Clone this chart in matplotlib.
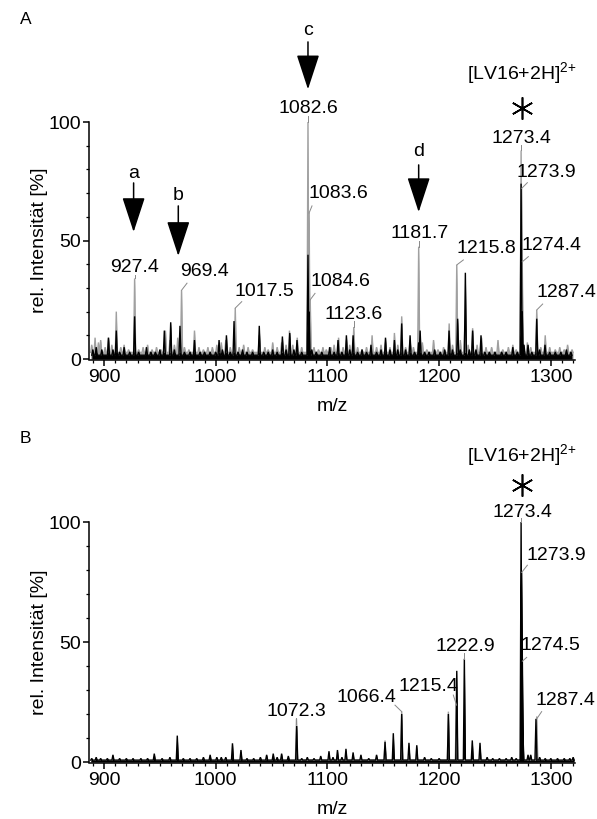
import matplotlib.pyplot as plt
from matplotlib.ticker import MultipleLocator, FixedLocator

plt.rcParams['font.family'] = ['Liberation Sans', 'DejaVu Sans']
plt.rcParams['font.size'] = 14
plt.rcParams['mathtext.fontset'] = 'custom'
plt.rcParams['mathtext.rm'] = 'Liberation Sans'
plt.rcParams['mathtext.it'] = 'Liberation Sans:italic'

FS = 14

# ---- panel A: two overlaid spectra (grey + black), m/z and rel. intensity [%]
a_grey_mz = [889, 892, 895, 897, 901, 904, 907, 911, 915, 918, 922, 927.4, 931, 935, 939, 943,
             947, 951, 955, 959, 963, 966, 969.4, 972, 976, 981, 985, 989, 993, 997, 1001, 1005,
             1009, 1013, 1017.5, 1021, 1025, 1029, 1033, 1039, 1044, 1047, 1051, 1055, 1059, 1063,
             1066, 1069, 1073, 1077, 1082.6, 1083.6, 1084.6, 1088, 1092, 1096, 1099, 1103, 1106,
             1110, 1114, 1117, 1120, 1123.6, 1127, 1131, 1135, 1140, 1144, 1148, 1152, 1156, 1160,
             1163, 1166.5, 1170, 1174, 1177, 1181.7, 1185, 1189, 1195, 1199, 1204, 1209, 1212,
             1215.8, 1219, 1223, 1226, 1230, 1234, 1238, 1242, 1247, 1252.7, 1257, 1262, 1266,
             1269, 1273.4, 1273.9, 1274.4, 1275, 1279, 1282, 1287.4, 1291, 1295, 1299, 1304, 1308,
             1312, 1315, 1319]
a_grey_int = [6, 9, 7, 8, 5, 9, 6, 20, 5, 6, 4, 34, 4, 5, 6, 4,
              5, 4, 12, 8, 6, 9, 29, 5, 4, 12, 5, 4, 5, 5, 6, 7,
              8, 5, 21.5, 5, 6, 5, 4, 10, 5, 4, 7, 5, 7, 6,
              12, 6, 9, 5, 100, 61.6, 25, 5, 4, 5, 4, 5, 6,
              9, 5, 8, 6, 13.5, 5, 4, 5, 10, 5, 6, 7, 5, 11,
              6, 18, 5, 8, 5, 47.4, 7, 4, 8, 4, 5, 15, 6,
              39.7, 8, 13, 6, 13, 6, 9, 5, 5, 8, 4, 5, 6,
              4, 88, 72, 41, 10, 7, 5, 20.7, 5, 10, 5, 4, 5,
              4, 6, 4]
a_black_mz = [890, 893, 898, 904, 908, 911, 914, 918, 923, 927.4, 931, 938, 942, 946, 950, 954,
              959.7, 963, 968, 972, 977, 981, 986, 990, 995, 1000, 1003, 1006, 1009.6, 1013,
              1016.4, 1020, 1024, 1028, 1033, 1039, 1043, 1047, 1051, 1055, 1059.7, 1063, 1066.3,
              1070, 1072.8, 1077, 1082.6, 1083.6, 1086, 1090, 1095, 1102, 1106, 1109.5, 1113, 1117,
              1120, 1123, 1127, 1131, 1135, 1139, 1144, 1148, 1152, 1156, 1160, 1163, 1166.5, 1170,
              1174, 1178, 1181.7, 1183, 1187, 1191, 1196, 1201, 1205, 1208.9, 1212, 1216.6, 1219,
              1223.5, 1227, 1230, 1233, 1237.5, 1241, 1245, 1250, 1256, 1260, 1266, 1270, 1273.4,
              1274.4, 1276, 1279.6, 1283, 1287.4, 1290, 1294.8, 1299, 1304, 1309, 1314, 1318]
a_black_int = [4, 5, 4, 9, 4, 12, 3, 5, 3, 18, 3, 5, 3, 3, 4, 12,
               15.5, 4, 14, 3, 3, 8, 3, 3, 3, 3, 8, 4, 10, 3,
               16, 3, 4, 3, 3, 14, 3, 3, 4, 3, 9.5, 4, 11,
               4, 8, 3, 44, 20, 4, 3, 3, 5, 3, 8, 3, 10,
               4, 10, 3, 4, 3, 6, 3, 4, 9, 4, 8, 4, 15, 4,
               10, 3, 7, 12, 3, 3, 4, 3, 4, 12, 4, 17, 4,
               36.4, 4, 12, 4, 10, 3, 3, 3, 3, 3, 5, 3, 74,
               20, 6, 6, 3, 17, 4, 6, 3, 3, 3, 4, 3]

# ---- panel B
b_black_mz = [889, 893, 897, 903, 908, 914, 920, 926, 933, 939, 945, 952, 959, 965.6, 971, 977,
              983, 989, 995, 1001, 1005, 1009, 1015, 1022.6, 1028, 1034, 1040, 1045.6, 1051.5,
              1055, 1059, 1065, 1072.5, 1077, 1082, 1088, 1094, 1101.4, 1105, 1109, 1113, 1116.6,
              1123, 1130, 1137, 1144, 1151.6, 1159, 1166.5, 1173, 1180, 1187, 1193, 1200, 1208.3,
              1215.8, 1222.6, 1229.7, 1236.6, 1243, 1248, 1254, 1260, 1265, 1269, 1273.4, 1273.9,
              1274.5, 1275, 1279.6, 1282, 1286.7, 1290, 1295, 1300, 1306, 1312, 1317, 1320]
b_black_int = [1.5, 2, 1.5, 1.5, 3, 1.5, 1.5, 1.5, 1.5, 1.5, 3.5, 1.5, 2, 11, 1.5, 1.5,
               1.5, 2, 3, 2, 2, 2, 7.8, 5, 1.5, 1.5, 2, 3, 3.5,
               2, 3.5, 2.5, 15, 1.5, 2, 1.5, 2.5, 4.5, 2, 5, 2, 5.5,
               4, 3, 1.5, 3, 8.4, 12, 20, 8, 7, 2, 1.5, 1.5, 20,
               38, 43, 9, 8, 2, 1.5, 1.5, 1.5, 2, 1.5, 100, 79,
               44, 12, 3, 3, 18, 2, 1.5, 1.5, 1.5, 1.5, 1.5, 2]
b_grey_mz = [1072.3, 1151.6, 1166.5, 1208.3, 1215.4, 1287.4]
b_grey_int = [18, 9, 21, 21, 24, 19]

base_level = {'a_grey': 2.8, 'a_black': 1.6, 'b_black': 0.8, 'b_grey': 0.8}

# peak labels: text, text position, leader start, leader end (peak top)
a_labels = [
    ('927.4', 927.5, 38.8, (927.4, 35.5), (927.4, 34)),
    ('969.4', 990.2, 36.8, (974.3, 32), (969.4, 29)),
    ('1017.5', 1044, 28.4, (1023.3, 24.2), (1017.5, 21.5)),
    ('1082.6', 1082.9, 105.9, (1082.6, 102.5), (1082.6, 100)),
    ('1083.6', 1109.8, 69.9, (1086.2, 64.6), (1083.6, 61.6)),
    ('1084.6', 1111.3, 32.6, (1088.9, 27.7), (1084.6, 25)),
    ('1123.6', 1123.2, 18.6, (1123.6, 16), (1123.6, 13.5)),
    ('1181.7', 1182.3, 53, (1181.7, 50), (1181.7, 47.4)),
    ('1215.8', 1242.6, 46.7, (1221.7, 41.8), (1215.8, 39.7)),
    ('1273.4', 1273.9, 93.1, (1273.4, 90.5), (1273.4, 88)),
    ('1273.9', 1296.3, 78.6, (1279, 74.4), (1273.9, 72)),
    ('1274.4', 1300.8, 47.7, (1279.9, 43.2), (1274.4, 41)),
    ('1287.4', 1313.6, 28, (1292.7, 23.2), (1287.4, 20.7)),
]
b_labels = [
    ('1072.3', 1072.5, 21, (1072.3, 18.5), (1072.3, 16)),
    ('1066.4', 1135.2, 26.9, (1160.5, 23.7), (1166.5, 21)),
    ('1215.4', 1190.4, 31.4, (1212.7, 27.9), (1215.6, 23.7)),
    ('1222.9', 1223.2, 48, (1222.7, 45.5), (1222.7, 43)),
    ('1273.4', 1275, 104, (1273.4, 101.5), (1273.4, 100)),
    ('1273.9', 1304.6, 86, (1279, 82), (1273.9, 79)),
    ('1274.5', 1299.3, 48.7, (1278.4, 43.6), (1274.5, 42)),
    ('1287.4', 1312.7, 25.8, (1291.8, 21), (1287.4, 18)),
]
# cleavage arrows: letter, m/z, letter y, arrow tail y, arrow tip y
a_arrows = [
    ('a', 926.5, 78.4, 74.3, 53.6),
    ('b', 966.5, 68.8, 64.6, 43.5),
    ('c', 1082.6, 138.8, 133.8, 113.8),
    ('d', 1181.7, 87.5, 81.9, 62),
]
ion_label = '[LV16+2H]$^{2{+}}$'


def draw_trace(ax, mz, inten, base, color, lw):
    hw = 0.9
    xs, ys = [], []
    for m, h in sorted(zip(mz, inten)):
        xs += [m - hw, m, m + hw]
        ys += [base, h, base]
    ax.fill_between(xs, 0, ys, color=color, lw=0)
    ax.plot(xs, ys, color=color, lw=lw, solid_joinstyle='miter')


def style_axis(ax, ytop):
    ax.set_xlim(887, 1322)
    ax.set_ylim(-0.5, ytop)
    for s in ['top', 'right']:
        ax.spines[s].set_visible(False)
    ax.spines['left'].set_bounds(0, 100)
    ax.spines['left'].set_linewidth(1.1)
    ax.spines['bottom'].set_linewidth(1.1)
    ax.set_yticks([0, 50, 100])
    ax.yaxis.set_minor_locator(FixedLocator(range(0, 101, 10)))
    ax.xaxis.set_major_locator(MultipleLocator(100))
    ax.xaxis.set_minor_locator(MultipleLocator(10))
    ax.tick_params(which='major', length=4, width=1.1, labelsize=FS, pad=2)
    ax.tick_params(which='minor', length=2.5, width=0.9)
    ax.set_xlabel('m/z', fontsize=FS, labelpad=9)
    ax.set_ylabel('rel. Intensität [%]', fontsize=FS)


def draw_labels(ax, labels):
    for txt, tx, ty, p0, p1 in labels:
        ax.text(tx, ty, txt, ha='center', va='center', fontsize=FS)
        ax.plot([p0[0], p1[0]], [p0[1], p1[1]], color='#888888', lw=0.7)


fig = plt.figure(figsize=(5.97, 8.19), dpi=100)
axA = fig.add_axes([0.1499, 0.5602, 0.8139, 0.4355])
axB = fig.add_axes([0.1499, 0.0681, 0.8139, 0.3971])

# panel A
draw_trace(axA, a_grey_mz, a_grey_int, base_level['a_grey'], '#a0a0a0', 1.0)
draw_trace(axA, a_black_mz, a_black_int, base_level['a_black'], 'black', 1.0)
style_axis(axA, 150)
axA.yaxis.set_label_coords(-0.085, 50.5 / 150.5)
draw_labels(axA, a_labels)
for letter, x, ly, y0, y1 in a_arrows:
    axA.text(x, ly, letter, ha='center', va='center', fontsize=FS)
    axA.annotate('', xy=(x, y1), xytext=(x, y0),
                 arrowprops=dict(arrowstyle='-|>,head_length=22,head_width=7.2',
                                 mutation_scale=1, color='black', lw=1.1,
                                 shrinkA=0, shrinkB=0))
axA.plot([1273.9], [106], marker=(6, 2, 0), ms=16, mew=1.2, color='black')
axA.text(1273.9, 120.5, ion_label, ha='center', va='center', fontsize=FS)

# panel B
draw_trace(axB, b_grey_mz, b_grey_int, base_level['b_grey'], '#a0a0a0', 1.0)
draw_trace(axB, b_black_mz, b_black_int, base_level['b_black'], 'black', 1.0)
style_axis(axB, 135)
axB.yaxis.set_label_coords(-0.085, 50.5 / 135.5)
draw_labels(axB, b_labels)
axB.plot([1274], [115.5], marker=(6, 2, 0), ms=16, mew=1.2, color='black')
axB.text(1274, 128, ion_label, ha='center', va='center', fontsize=FS)

fig.text(0.0335, 0.9756, 'A', fontsize=12.5, ha='left', va='center')
fig.text(0.0335, 0.465, 'B', fontsize=12.5, ha='left', va='center')

fig.savefig('out.png', dpi=100)
